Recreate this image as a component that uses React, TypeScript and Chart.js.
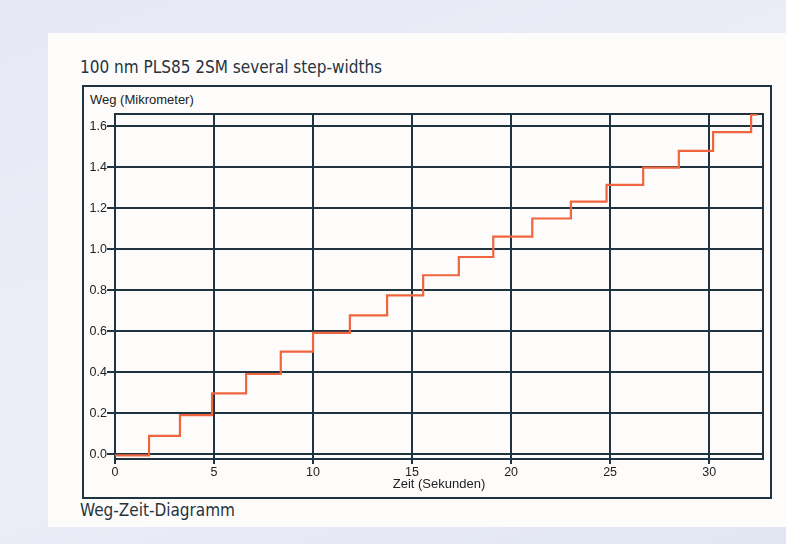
import React, { useEffect, useRef } from "react";
import { Chart, registerables } from "chart.js";

Chart.register(...registerables);

// Step start times (seconds) and plateau values (micrometer)
const stepTimes = [0, 1.72, 3.28, 4.9, 6.62, 8.37, 10.0, 11.86, 13.74, 15.56, 17.36, 19.1, 21.07, 23.02, 24.82, 26.67, 28.47, 30.2, 32.12, 32.45];
const stepValues = [-0.005, 0.09, 0.191, 0.297, 0.392, 0.501, 0.593, 0.678, 0.776, 0.874, 0.963, 1.062, 1.151, 1.233, 1.315, 1.399, 1.481, 1.573, 1.658, 1.658];

const xTicks = [0, 5, 10, 15, 20, 25, 30];
const yTicks = [0, 0.2, 0.4, 0.6, 0.8, 1.0, 1.2, 1.4, 1.6];

const titleText = "100 nm PLS85 2SM several step-widths";
const captionText = "Weg-Zeit-Diagramm";
const yAxisTitle = "Weg (Mikrometer)";
const xAxisTitle = "Zeit (Sekunden)";

const GRID = "#1f3440";
const LINE = "#f0643e";
const TXT = "#24343e";

export default function App() {
  const canvasRef = useRef<HTMLCanvasElement | null>(null);

  useEffect(() => {
    const canvas = canvasRef.current;
    if (!canvas) return;
    const frame = {
      id: "frame",
      beforeDatasetsDraw(chart: any) {
        const { ctx, chartArea } = chart;
        ctx.save();
        ctx.strokeStyle = GRID;
        ctx.lineWidth = 2;
        ctx.strokeRect(chartArea.left, chartArea.top, chartArea.right - chartArea.left, chartArea.bottom - chartArea.top);
        ctx.restore();
      },
    };
    const chart = new Chart(canvas, {
      type: "line",
      data: {
        datasets: [
          {
            data: stepTimes.map((t, i) => ({ x: t, y: stepValues[i] })),
            stepped: "before",
            borderColor: LINE,
            borderWidth: 2.2,
            pointRadius: 0,
            fill: false,
          },
        ],
      },
      options: {
        animation: false,
        responsive: false,
        devicePixelRatio: 1,
        layout: { padding: { left: 0, top: 114, right: 23, bottom: 52 } },
        plugins: { legend: { display: false }, tooltip: { enabled: false }, title: { display: false } },
        scales: {
          x: {
            type: "linear",
            min: 0,
            max: 32.72,
            afterFit: (s: any) => {
              s.height = 33;
            },
            afterBuildTicks: (s: any) => {
              s.ticks = xTicks.map((v) => ({ value: v }));
            },
            ticks: {
              includeBounds: false,
              padding: 1,
              color: "#222",
              font: { family: "Liberation Sans", size: 12.5 },
              maxRotation: 0,
              callback: (v: any) => String(v),
            },
            grid: { color: GRID, lineWidth: 2, tickLength: 5, drawOnChartArea: true },
            border: { color: GRID, width: 2 },
            title: {
              display: true,
              text: xAxisTitle,
              color: "#222",
              font: { family: "Liberation Sans", size: 13 },
              padding: 0,
            },
          },
          y: {
            type: "linear",
            min: -0.023,
            max: 1.661,
            afterFit: (s: any) => {
              s.width = 115;
            },
            afterBuildTicks: (s: any) => {
              s.ticks = yTicks.map((v) => ({ value: v }));
            },
            ticks: {
              includeBounds: false,
              padding: 0,
              color: "#222",
              font: { family: "Liberation Sans", size: 12.5 },
              callback: (v: any) => Number(v).toFixed(1),
            },
            grid: { color: GRID, lineWidth: 2, tickLength: 8 },
            border: { color: GRID, width: 2 },
          },
        },
      },
      plugins: [frame],
    });
    return () => chart.destroy();
  }, []);

  return (
    <div
      style={{
        position: "fixed",
        left: 0,
        top: 0,
        width: 786,
        height: 544,
        overflow: "hidden",
        background: "linear-gradient(160deg, #e6e9f4 0%, #eceef7 55%, #e2e6f3 100%)",
      }}
    >
      <div style={{ position: "absolute", left: 48, top: 33, width: 738, height: 494, background: "#fefcfb" }} />
      <div
        style={{
          position: "absolute",
          left: 82,
          top: 85,
          width: 686,
          height: 410,
          border: `2px solid ${GRID}`,
        }}
      />
      <div
        style={{
          position: "absolute",
          left: 80,
          top: 57,
          fontFamily: "DejaVu Sans Condensed",
          fontSize: 17,
          color: TXT,
          whiteSpace: "nowrap",
        }}
      >
        {titleText}
      </div>
      <div
        style={{
          position: "absolute",
          left: 80,
          top: 500,
          fontFamily: "DejaVu Sans Condensed",
          fontSize: 17,
          color: TXT,
          whiteSpace: "nowrap",
        }}
      >
        {captionText}
      </div>
      <div
        style={{
          position: "absolute",
          left: 90,
          top: 92,
          fontFamily: "Liberation Sans",
          fontSize: 13,
          color: "#222",
          whiteSpace: "nowrap",
        }}
      >
        {yAxisTitle}
      </div>
      <canvas ref={canvasRef} width={786} height={544} style={{ position: "absolute", left: 0, top: 0 }} />
    </div>
  );
}
